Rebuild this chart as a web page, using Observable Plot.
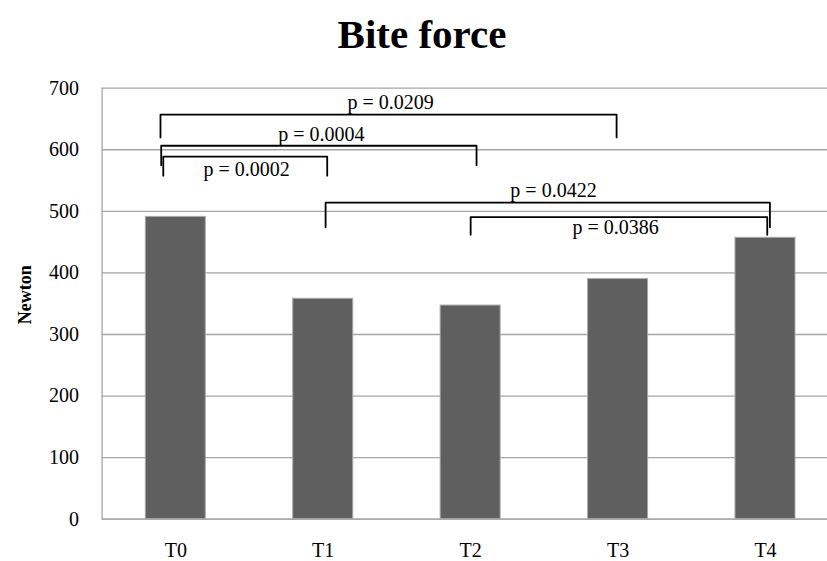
<!DOCTYPE html>
<html>
<head>
<meta charset="utf-8">
<script src="https://cdn.jsdelivr.net/npm/d3@7"></script>
<script src="https://cdn.jsdelivr.net/npm/@observablehq/plot@0.6"></script>
<style>
  html, body { margin: 0; padding: 0; background: #fff; }
  #title { height: 60px; box-sizing: border-box; padding-top: 4px; padding-left: 17px; text-align: center;
           font: bold 41px "Liberation Serif", serif; line-height: 60px; color: #000; }
  #chart svg { display: block; }
</style>
</head>
<body>
<div id="title">Bite force</div>
<div id="chart"></div>
<script>
const categories = ["T0", "T1", "T2", "T3", "T4"];
const newtons = [491, 358, 347, 390, 457];
const yTicks = [0, 100, 200, 300, 400, 500, 600, 700];

// significance brackets (x in category index units, y in Newton)
const bracketLabels = ["p = 0.0209", "p = 0.0004", "p = 0.0002", "p = 0.0422", "p = 0.0386"];
const bracketStart = [-0.104, -0.099, -0.085, 1.016, 2.0];
const bracketEnd = [2.99, 2.04, 1.027, 4.03, 4.012];
const bracketTop = [657, 606.5, 589, 514, 490.5];
const bracketFoot = [620, 575, 558, 474, 462];
const labelX = [1.457, 0.988, 0.480, 2.562, 2.983];
const labelY = [666.6, 615, 558.2, 523, 463.5];

const font = "Liberation Serif, serif";

const bracketPts = bracketLabels.flatMap((lab, i) => [
  {id: i, x: bracketStart[i], y: bracketFoot[i]},
  {id: i, x: bracketStart[i], y: bracketTop[i]},
  {id: i, x: bracketEnd[i], y: bracketTop[i]},
  {id: i, x: bracketEnd[i], y: bracketFoot[i]}
]);

const chart = Plot.plot({
  width: 827,
  height: 501,
  marginLeft: 101.6,
  marginRight: -11.7,
  marginTop: 27.7,
  marginBottom: 42.3,
  style: {fontFamily: font, color: "#000", background: "#fff"},
  x: {type: "linear", domain: [-0.5, 4.5]},
  y: {domain: [0, 700]},
  marks: [
    Plot.gridY(yTicks, {stroke: "#a6a6a6", strokeOpacity: 1, strokeWidth: 1.3}),
    Plot.rectY(categories, {
      x1: (d, i) => i - 0.2035,
      x2: (d, i) => i + 0.2035,
      y1: 0,
      y2: (d, i) => newtons[i],
      fill: "#5f5f5f",
      stroke: "#a9a9a9",
      strokeWidth: 1
    }),
    Plot.ruleX([-0.5], {stroke: "#a6a6a6", strokeWidth: 1.3}),
    Plot.ruleY([0], {stroke: "#a6a6a6", strokeWidth: 1.3}),
    Plot.axisY(yTicks, {tickSize: 0, tickPadding: 23, fontSize: 20, label: null, fontFamily: font}),
    Plot.axisX([0, 1, 2, 3, 4], {tickSize: 0, tickPadding: 24, fontSize: 20, label: null,
      tickFormat: (i) => categories[i], fontFamily: font}),
    Plot.text(["Newton"], {frameAnchor: "left", textAnchor: "middle", rotate: -90, dx: -76.6, dy: -9,
      fontWeight: "bold", fontSize: 18, fontFamily: font, fill: "#000"}),
    Plot.line(bracketPts, {x: "x", y: "y", z: "id", stroke: "#000", strokeWidth: 1.8,
      strokeLinejoin: "round", strokeLinecap: "round"}),
    Plot.text(bracketLabels, {x: (d, i) => labelX[i], y: (d, i) => labelY[i],
      text: (d) => d, lineAnchor: "bottom", fontSize: 20, fontFamily: font, fill: "#000"})
  ]
});
document.getElementById("chart").appendChild(chart);
</script>
</body>
</html>
